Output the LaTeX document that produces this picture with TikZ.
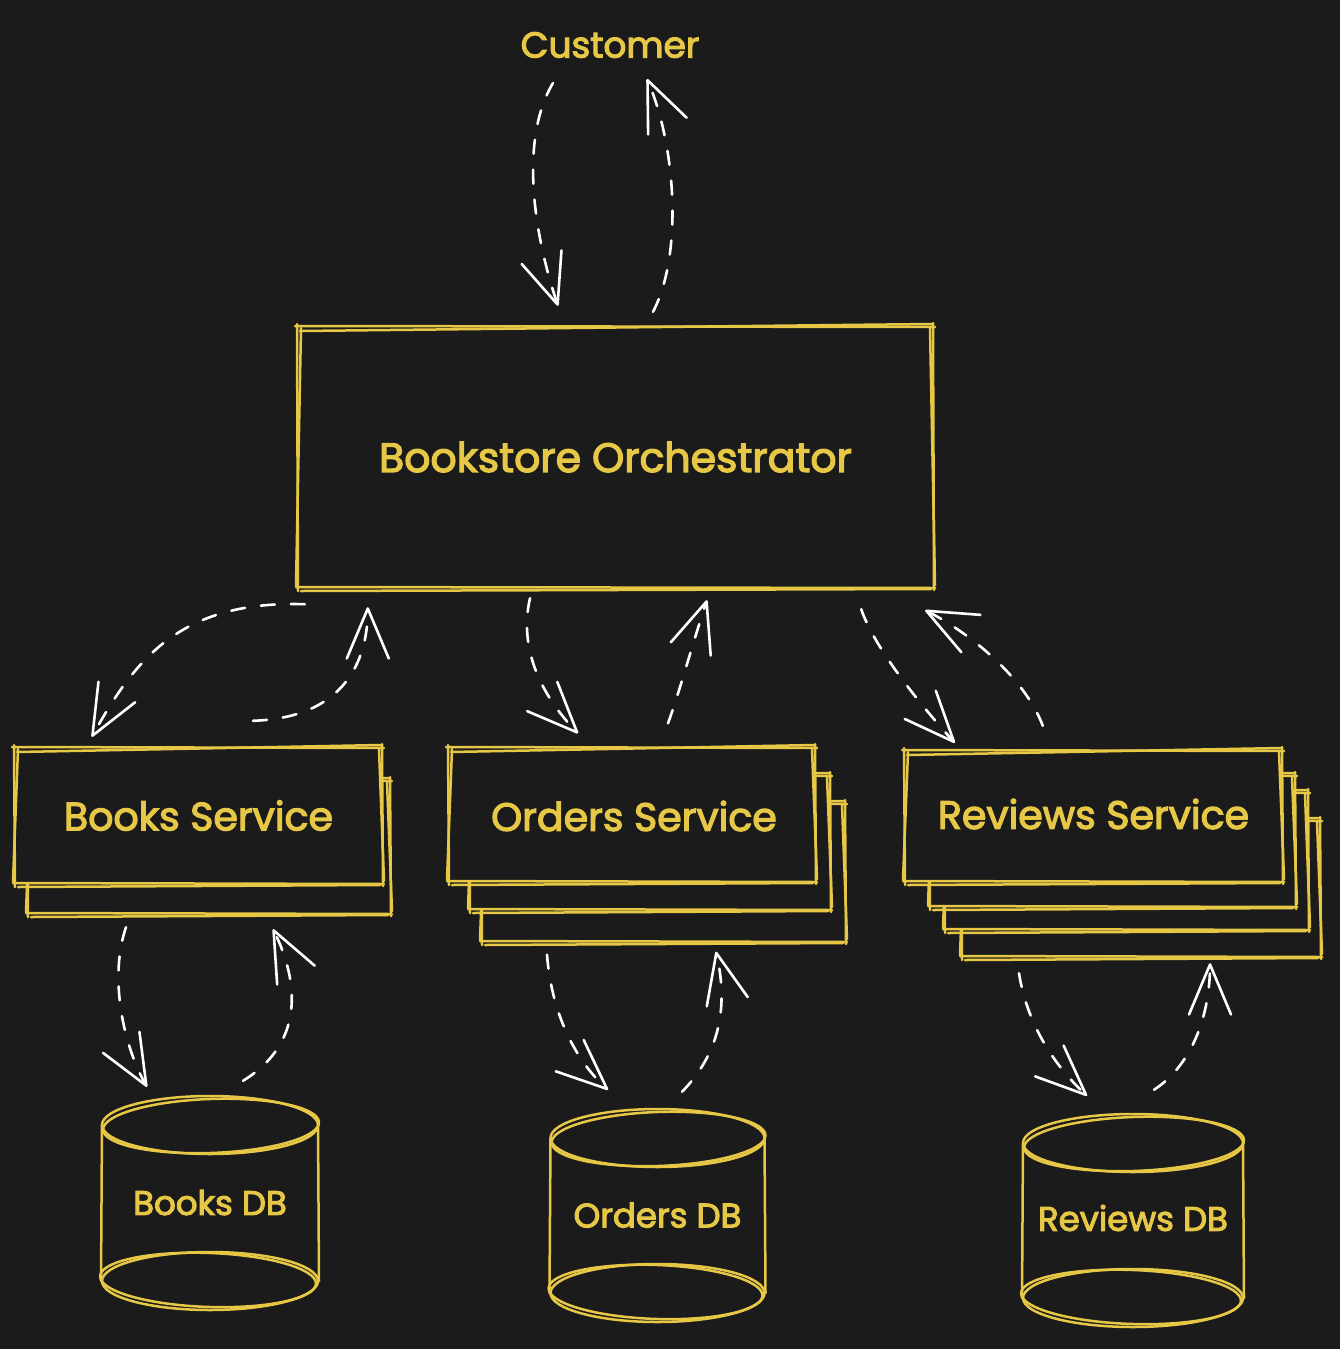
\documentclass[tikz,border=0pt]{standalone}
\usepackage{fontspec}
\setmainfont{Poppins}[FakeBold=3]
\usetikzlibrary{arrows.meta,calc}
\definecolor{bgc}{HTML}{1B1B1B}
\definecolor{ylw}{HTML}{E6C846}
\tikzset{
  sk/.style={draw=ylw, line width=2.5pt, line cap=round},
  flow/.style={draw=white, line width=2.6pt, line cap=round,
    dash pattern=on 14pt off 16pt,
    -{Straight Barb[length=50pt,width=42pt,round]}},
  lbl/.style={text=ylw, inner sep=0pt, align=center},
  orchf/.style={lbl, font=\fontsize{41}{45}\selectfont},
  big/.style={lbl, font=\fontsize{39.5}{44}\selectfont},
  mid/.style={lbl, font=\fontsize{36}{40}\selectfont},
  small/.style={lbl, font=\fontsize{34}{38}\selectfont},
}
\newcommand\skrect[4]{%
  \fill[bgc] (#1,#2) rectangle (#3,#4);
  \draw[sk] (#1-3,#2) -- (#3+2,#2+1);
  \draw[sk] (#3,#2-3) -- (#3+1,#4+2);
  \draw[sk] (#3+2,#4) -- (#1-2,#4-1);
  \draw[sk] (#1,#4+3) -- (#1-1,#2-2);
  \draw[sk] (#1+2,#2+5) -- (#3-1,#2-2);
  \draw[sk] (#3-3,#2+2) -- (#3+2,#4-3);
  \draw[sk] (#1+3,#4+3) -- (#3-2,#4+1);
  \draw[sk] (#1+3,#2+2) -- (#1-2,#4-2);
}
% cx, top-ellipse centre y, bottom-ellipse centre y, x radius
\newcommand\skcyl[4]{%
  \fill[bgc] (#1-#4,#2) rectangle (#1+#4,#3);
  \fill[bgc] (#1,#2) ellipse [x radius=#4, y radius=29];
  \fill[bgc] (#1,#3) ellipse [x radius=#4, y radius=29];
  \draw[sk] (#1,#2) ellipse [x radius=#4, y radius=29];
  \draw[sk, rotate around={2:(#1,#2)}] (#1+1,#2+1) ellipse [x radius=#4, y radius=27];
  \draw[sk] (#1,#3) ellipse [x radius=#4, y radius=29];
  \draw[sk, rotate around={-2:(#1,#3)}] (#1-2,#3-1) ellipse [x radius=#4, y radius=27];
  \draw[sk] (#1-#4,#2) -- (#1-#4-1,#3);
  \draw[sk] (#1+#4,#2) -- (#1+#4+1,#3);
}
\begin{document}
\begin{tikzpicture}[x={(1pt,0)}, y={(0,-1pt)}]
\fill[bgc] (0,0) rectangle (1340,1349);
\useasboundingbox (0,0) rectangle (1340,1349);

% Customer
\node[mid] (cust) at (610,45) {Customer};

% Orchestrator
\skrect{298}{326}{933}{588}
\node[orchf, minimum width=635pt, minimum height=262pt] (orch) at (615.5,457) {Bookstore Orchestrator};

% Books Service stack
\skrect{28}{780}{390}{914}
\skrect{15}{747}{382}{884}
\node[big, minimum width=367pt, minimum height=137pt] (books) at (198.5,815.5) {Books Service};

% Orders Service stack
\skrect{482}{803}{845}{942}
\skrect{470}{775}{830}{910}
\skrect{449}{747}{815}{882}
\node[big, minimum width=366pt, minimum height=135pt] (orders) at (634,816) {Orders Service};

% Reviews Service stack
\skrect{962}{820}{1320}{957}
\skrect{945}{792}{1308}{930}
\skrect{930}{775}{1295}{907}
\skrect{905}{750}{1282}{882}
\node[big, minimum width=377pt, minimum height=132pt] (reviews) at (1093.5,814) {Reviews Service};

% Databases
\skcyl{210}{1125}{1281}{108}
\node[small, minimum width=216pt, minimum height=215pt] (bdb) at (210,1202.5) {Books DB};
\skcyl{657.5}{1138}{1293}{107}
\node[small, minimum width=215pt, minimum height=214pt] (odb) at (657.5,1215) {Orders DB};
\skcyl{1133}{1143}{1298}{110}
\node[small, minimum width=220pt, minimum height=214pt] (rdb) at (1133,1218) {Reviews DB};

% Connectors
\draw[flow] ($(cust.center)+(-57,38)$) .. controls +(-34,57) and +(-24,-71) .. ($(orch.north)+(-57.5,-20)$);
\draw[flow] ($(orch.north)+(37.5,-14)$) .. controls +(30,-57) and +(29,67) .. ($(cust.center)+(37,34)$);

\draw[flow] ($(orch.south west)+(7,16)$) .. controls +(-125,-4) and +(43,-77) .. ($(books.north west)+(77,-10)$);
\draw[flow] ($(books.north)+(54.5,-26)$) .. controls +(92,-3) and +(0,53) .. ($(orch.south west)+(70,19)$);

\draw[flow] ($(orch.south)+(-85.5,10)$) .. controls +(-12,52) and +(-35,-36) .. ($(orders.north)+(-56,-15)$);
\draw[flow] ($(orders.north)+(34,-25)$) .. controls +(12,-33) and +(-15,45) .. ($(orch.south)+(91.5,12)$);

\draw[flow] ($(orch.south east)+(-72,21)$) .. controls +(14,41) and +(-30,-33) .. ($(reviews.north west)+(50,-5)$);
\draw[flow] ($(reviews.north west)+(138,-22)$) .. controls +(-18,-48) and +(45,23) .. ($(orch.south east)+(-8,22)$);

\draw[flow] ($(books.south)+(-72.5,43)$) .. controls +(-18,53) and +(-22,-38) .. ($(bdb.north)+(-63,-8)$);
\draw[flow] ($(bdb.north)+(33,-14)$) .. controls +(67,-41) and +(22,44) .. ($(books.south)+(74.5,45)$);

\draw[flow] ($(orders.south)+(-87,71)$) .. controls +(5,65) and +(-28,-25) .. ($(odb.north)+(-49.5,-18)$);
\draw[flow] ($(odb.north)+(24.5,-16)$) .. controls +(46,-47) and +(9,40) .. ($(orders.south)+(82,68)$);

\draw[flow] ($(reviews.south)+(-74.5,93)$) .. controls +(9,57) and +(-27,-25) .. ($(rdb.north)+(-46,-15)$);
\draw[flow] ($(rdb.north)+(21,-21)$) .. controls +(41,-27) and +(0,47) .. ($(reviews.south)+(116.5,83)$);
\end{tikzpicture}
\end{document}
